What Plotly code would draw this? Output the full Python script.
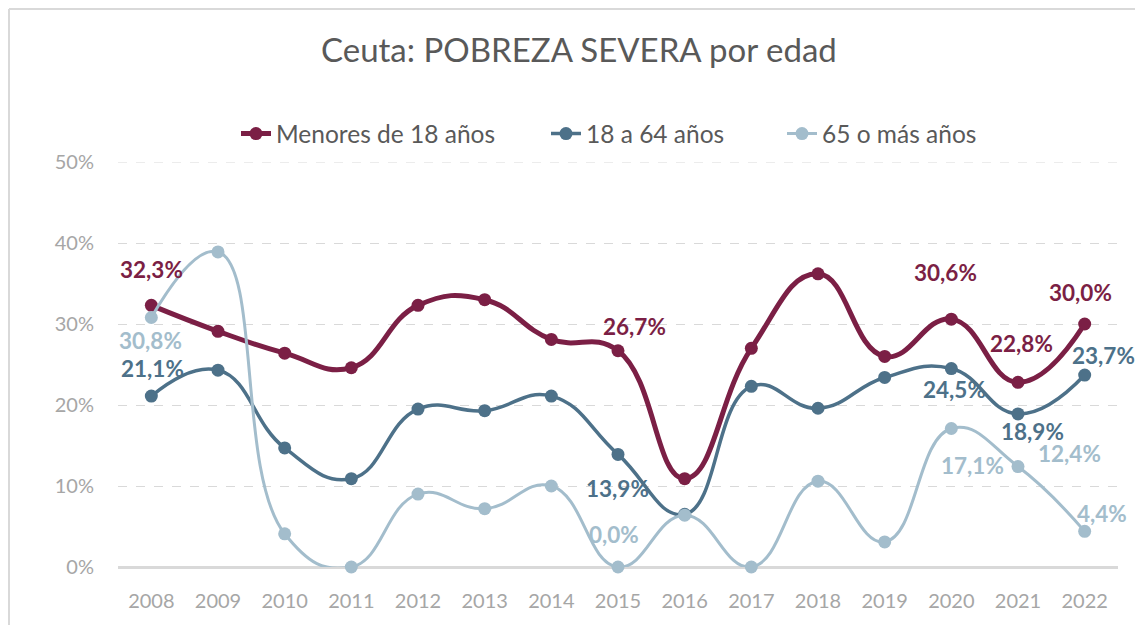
import plotly.graph_objects as go

years = [str(y) for y in range(2008, 2023)]
menores = [32.3, 29.1, 26.4, 24.6, 32.3, 33.0, 28.1, 26.7, 10.9, 27.0, 36.2, 26.0, 30.6, 22.8, 30.0]
adultos = [21.1, 24.3, 14.7, 10.9, 19.5, 19.3, 21.1, 13.9, 6.5, 22.3, 19.6, 23.4, 24.5, 18.9, 23.7]
mayores = [30.8, 38.9, 4.1, 0.0, 9.0, 7.2, 10.0, 0.0, 6.4, 0.0, 10.6, 3.1, 17.1, 12.4, 4.4]
series_names = ["Menores de 18 años", "18 a 64 años", "65 o más años"]
y_ticks = [0, 10, 20, 30, 40, 50]
label_idx = [0, 7, 12, 13, 14]

colors = ["#7b1f45", "#4d7189", "#a3bdcc"]
widths = [5, 3.5, 3]
legend_ids = ["legend", "legend2", "legend3"]
legend_x = [0.118, 0.428, 0.664]
# label offsets (xshift, yshift) in px for each labelled point
offsets = [
    [(0, 36), (16, 24), (-6, 47), (3, 39), (-4, 32)],
    [(1, 28), (-1, -34), (3, -21), (14, -18), (19, 20)],
    [(-1, -23), (-4, 33), (21, -37), (51, 13), (17, 18)],
]

fig = go.Figure()
all_series = [menores, adultos, mayores]
for name, vals, c, w, lg in zip(series_names, all_series, colors, widths, legend_ids):
    fig.add_trace(go.Scatter(
        x=years, y=vals, name=name, mode="lines+markers",
        line=dict(color=c, width=w, shape="spline", smoothing=1.3),
        marker=dict(color=c, size=13),
        cliponaxis=False, legend=lg,
    ))

annotations = []
for vals, c, offs in zip(all_series, colors, offsets):
    for i, (dx, dy) in zip(label_idx, offs):
        annotations.append(dict(
            x=i, y=vals[i], xref="x", yref="y",
            text=f"<b>{vals[i]:.1f}%</b>".replace(".", ","),
            showarrow=False, xshift=dx, yshift=dy, borderpad=0,
            font=dict(family="Lato", size=22.5, color=c),
        ))

legend_common = dict(orientation="h", xanchor="left", y=1.07, yanchor="middle",
                     font=dict(family="Lato", size=24.5, color="#595959"))

fig.update_layout(
    width=1135, height=617,
    paper_bgcolor="white", plot_bgcolor="white",
    margin=dict(l=110, r=25, t=154, b=58),
    font=dict(family="Lato", color="#a6a6a6", size=20),
    title=dict(text="Ceuta: POBREZA SEVERA por edad", x=0.503, xanchor="center",
               y=0.932, yanchor="middle",
               font=dict(family="Lato", size=33, color="#595959")),
    legend=dict(x=legend_x[0], **legend_common),
    legend2=dict(x=legend_x[1], **legend_common),
    legend3=dict(x=legend_x[2], **legend_common),
    showlegend=True,
    annotations=annotations,
    shapes=[
        dict(type="line", xref="paper", yref="paper", x0=-0.109, x1=-0.109, y0=-0.17, y1=1.378,
             line=dict(color="#d9d9d9", width=2)),
        dict(type="line", xref="paper", yref="paper", x0=-0.109, x1=1.03, y0=1.378, y1=1.378,
             line=dict(color="#d9d9d9", width=2)),
        dict(type="line", xref="paper", yref="y", x0=0, x1=1, y0=y_ticks[-1], y1=y_ticks[-1],
             line=dict(color="#d9d9d9", width=1, dash="dash"), layer="below"),
    ],
)
fig.update_xaxes(type="category", range=[-0.5, 14.5], showgrid=False, showline=False,
                 ticks="", tickfont=dict(size=20, color="#a6a6a6"), ticklabelstandoff=20)
fig.update_yaxes(range=[0, 50], tickvals=y_ticks, ticktext=[f"{t}%" for t in y_ticks],
                 showgrid=True, gridcolor="#d9d9d9", griddash="dash", gridwidth=1,
                 zeroline=True, zerolinecolor="#d9d9d9", zerolinewidth=3,
                 showline=False, ticks="", tickfont=dict(size=20, color="#a6a6a6"),
                 ticklabelstandoff=23)

fig.write_html("out.html")
